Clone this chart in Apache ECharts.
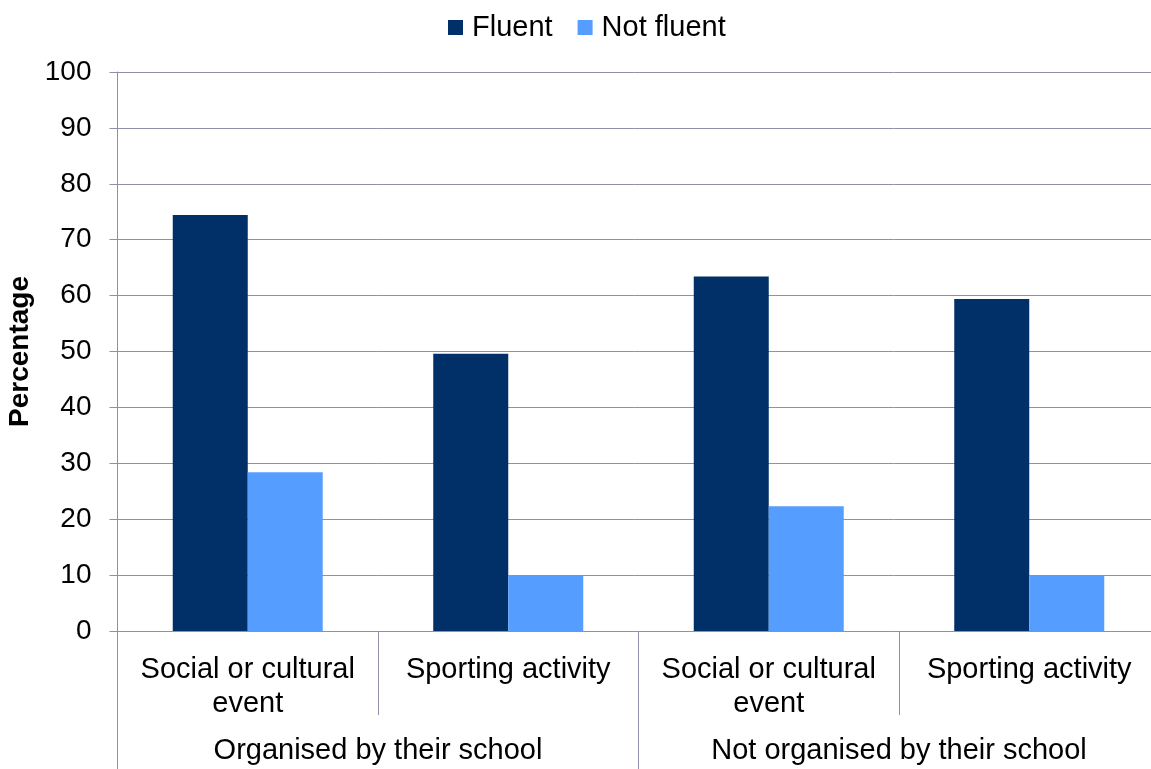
<!DOCTYPE html>
<html>
<head>
<meta charset="utf-8">
<script src="https://cdn.jsdelivr.net/npm/echarts@6/dist/echarts.min.js"></script>
<style>
  html, body { margin: 0; padding: 0; background: #fff; }
  #chart { width: 1151px; height: 769px; }
</style>
</head>
<body>
<div id="chart"></div>
<script>
const activities = ['Social or cultural\nevent', 'Sporting activity', 'Social or cultural\nevent', 'Sporting activity'];
const groups = ['Organised by their school', 'Not organised by their school'];
const fluent = [74.4, 49.6, 63.4, 59.4];
const notFluent = [28.4, 10, 22.3, 10];
const yTicks = { min: 0, max: 100, step: 10 };

const FONT = '"Liberation Sans", Arial, sans-serif';
const LINE = '#8e91a9';

const chart = echarts.init(document.getElementById('chart'), null, { renderer: 'canvas' });

chart.setOption({
  animation: false,
  backgroundColor: '#fff',
  textStyle: { fontFamily: FONT, color: '#000' },
  legend: {
    left: 443,
    top: 8,
    icon: 'rect',
    itemWidth: 15,
    itemHeight: 15,
    itemGap: 25,
    textStyle: { fontSize: 29, color: '#000', padding: [0, 0, 0, 4] },
    data: ['Fluent', 'Not fluent']
  },
  // the plot runs a little past the right edge of the picture
  grid: {
    left: 117.5, width: 1042, top: 72, height: 559,
    containLabel: false, outerBoundsMode: 'none'
  },
  xAxis: [
    {
      type: 'category',
      data: activities,
      axisLine: { show: true, lineStyle: { color: LINE } },
      axisTick: { show: true, length: 84, lineStyle: { color: LINE } },
      axisLabel: { fontSize: 29, color: '#000', lineHeight: 34, margin: 22, interval: 0 }
    },
    {
      type: 'category',
      data: groups,
      position: 'bottom',
      axisLine: { show: false },
      axisTick: { show: true, length: 140, lineStyle: { color: LINE } },
      axisLabel: { fontSize: 29, color: '#000', lineHeight: 34, margin: 103, interval: 0 }
    }
  ],
  yAxis: {
    type: 'value',
    min: yTicks.min,
    max: yTicks.max,
    interval: yTicks.step,
    name: 'Percentage',
    nameLocation: 'middle',
    nameGap: 83,
    nameTextStyle: { fontSize: 28, fontWeight: 'bold', color: '#000' },
    axisLine: { show: true, lineStyle: { color: LINE } },
    axisTick: { show: true, length: 8, lineStyle: { color: LINE } },
    axisLabel: { fontSize: 28, color: '#000', margin: 26 },
    splitLine: { show: true, lineStyle: { color: LINE } }
  },
  series: [
    {
      name: 'Fluent',
      type: 'bar',
      xAxisIndex: 0,
      data: fluent,
      barWidth: 75,
      barGap: '0%',
      itemStyle: { color: '#003067' }
    },
    {
      name: 'Not fluent',
      type: 'bar',
      xAxisIndex: 0,
      data: notFluent,
      barWidth: 75,
      barGap: '0%',
      itemStyle: { color: '#559eff' }
    }
  ]
});
</script>
</body>
</html>
